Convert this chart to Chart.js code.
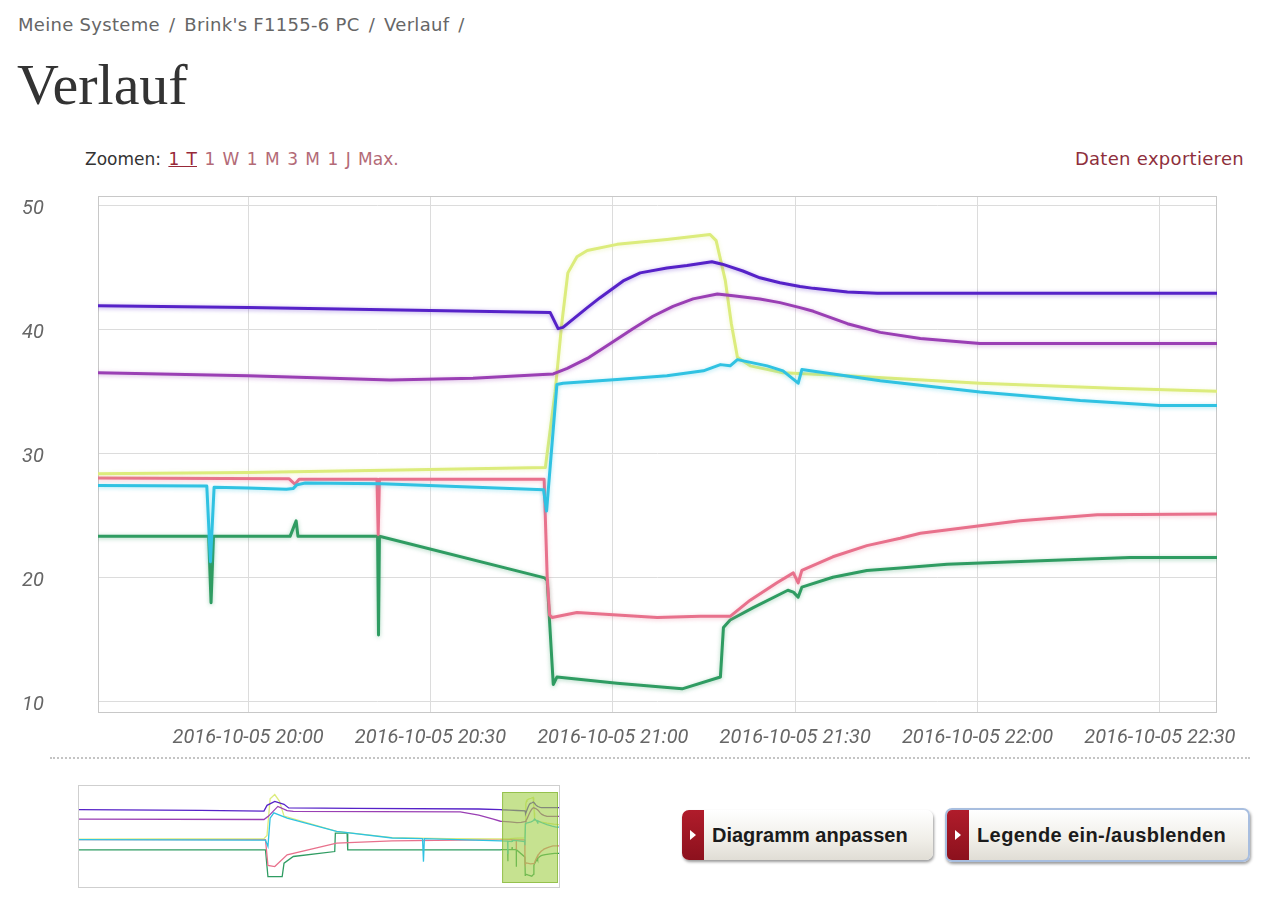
<!DOCTYPE html>
<html lang="de">
<head>
<meta charset="utf-8">
<title>Verlauf</title>
<script src="https://cdn.jsdelivr.net/npm/chart.js@4.4.1/dist/chart.umd.min.js"></script>
<style>
    body {
        margin: 0;
        width: 1280px;
        height: 898px;
        position: relative;
        overflow: hidden;
        background: #fff;
        font-family: "DejaVu Sans", sans-serif;
    }
    .crumbs {
        position: absolute;
        left: 18px;
        top: 14px;
        font-size: 18px;
        letter-spacing: 0.3px;
        color: #666;
    }
    .crumbs .sep { margin: 0 3px; }
    h1 {
        position: absolute;
        left: 17px;
        top: 51px;
        margin: 0;
        font: 400 58px "Liberation Serif", serif;
        color: #333;
    }
    .zoom {
        position: absolute;
        left: 85px;
        top: 149px;
        font-size: 17px;
        color: #333;
        word-spacing: 2px;
    }
    .zoom a { color: #b36a77; text-decoration: none; }
    .zoom a.active { color: #972838; text-decoration: underline; }
    .export {
        position: absolute;
        right: 36px;
        top: 148px;
        font-size: 18px;
        letter-spacing: 0.3px;
        color: #8e2f3c;
    }
    #mainWrap {
        position: absolute;
        left: 22px;
        top: 180px;
        width: 1238px;
        height: 580px;
    }
    .dots {
        position: absolute;
        left: 50px;
        top: 757px;
        width: 1200px;
        border-top: 2px dotted #c4c4c4;
    }
    #navWrap {
        position: absolute;
        left: 78px;
        top: 785px;
        width: 482px;
        height: 103px;
        box-sizing: border-box;
        border: 1px solid #cfcfcf;
    }
    .btn {
        position: absolute;
        box-sizing: border-box;
        border-radius: 7px;
        background: linear-gradient(#ffffff, #f0eee8 60%, #e0ddd5);
        box-shadow: 1px 2px 3px rgba(0, 0, 0, 0.4);
        font: bold 20px "Liberation Sans", Arial, sans-serif;
        color: #1b1b1b;
        overflow: hidden;
    }
    .btn .tab {
        position: absolute;
        left: 0;
        top: 0;
        bottom: 0;
        width: 22px;
        background: linear-gradient(#b01c2b, #8c111d);
    }
    .btn .tab::after {
        content: "";
        position: absolute;
        left: 8px;
        top: 50%;
        margin-top: -5px;
        border-left: 6px solid #fff;
        border-top: 5px solid transparent;
        border-bottom: 5px solid transparent;
    }
    .btn span {
        position: absolute;
        left: 30px;
        top: 50%;
        transform: translateY(-50%);
        white-space: nowrap;
    }
    #btnFit { left: 682px; top: 810px; width: 251px; height: 50px; }
    #btnLegend { left: 945px; top: 808px; width: 305px; height: 54px; border: 2px solid #a8bedf; }
    #btnLegend span { letter-spacing: 0.4px; }
</style>
</head>
<body>

<div class="crumbs">Meine Systeme <span class="sep">/</span> Brink's F1155-6 PC <span class="sep">/</span> Verlauf <span class="sep">/</span></div>
<h1>Verlauf</h1>

<div class="zoom">Zoomen: <a class="active">1 T</a> <a>1 W</a> <a>1 M</a> <a>3 M</a> <a>1 J</a> <a>Max.</a></div>
<div class="export">Daten exportieren</div>

<div id="mainWrap"><canvas id="mainChart"></canvas></div>
<div class="dots"></div>
<div id="navWrap"><canvas id="navChart"></canvas></div>

<div class="btn" id="btnFit"><div class="tab"></div><span>Diagramm anpassen</span></div>
<div class="btn" id="btnLegend"><div class="tab"></div><span>Legende ein-/ausblenden</span></div>

<script>
// times are minutes after midnight, 2016-10-05 (negative = day before)
const dayLabel = "2016-10-05";
const X_MIN = 1175.3;
const X_MAX = 1359.4;
const xTicks = [1200, 1230, 1260, 1290, 1320, 1350];
const yTicks = [10, 20, 30, 40, 50];

const indigoTimes = [1175.3, 1200, 1225, 1249.7, 1251.0, 1251.8, 1255.8, 1257.9, 1261.7, 1264.5, 1268.9, 1272.2, 1276.3, 1278.0, 1281.4, 1284.2, 1287.5, 1290.8, 1293.0, 1298.6, 1303.5, 1359.4];
const indigoValues = [41.95, 41.8, 41.6, 41.4, 40.1, 40.2, 41.8, 42.6, 43.95, 44.6, 45.0, 45.2, 45.5, 45.3, 44.75, 44.2, 43.8, 43.5, 43.35, 43.05, 42.95, 42.95];

const purpleTimes = [1175.3, 1200, 1223.4, 1237, 1248.5, 1250.2, 1252.5, 1255.8, 1259.6, 1263.3, 1266.6, 1269.9, 1273.2, 1277.2, 1279.8, 1284.2, 1287.5, 1290.8, 1293.0, 1298.6, 1304.0, 1310.6, 1320.4, 1359.4];
const purpleValues = [36.55, 36.3, 35.95, 36.1, 36.4, 36.45, 36.9, 37.7, 38.9, 40.1, 41.1, 41.9, 42.5, 42.9, 42.75, 42.5, 42.2, 41.8, 41.5, 40.5, 39.8, 39.3, 38.9, 38.9];

const yellowTimes = [1175.3, 1200, 1225, 1248.9, 1250.5, 1251.6, 1252.6, 1254.1, 1255.8, 1260.7, 1268.9, 1276.0, 1277.0, 1278.5, 1279.5, 1280.5, 1282.6, 1288.0, 1298.6, 1320.4, 1342.3, 1359.4];
const yellowValues = [28.4, 28.5, 28.7, 28.9, 35.0, 40.5, 44.6, 45.9, 46.4, 46.9, 47.3, 47.7, 47.2, 44.0, 40.5, 37.8, 37.1, 36.55, 36.3, 35.7, 35.3, 35.05];

const cyanTimes = [1175.3, 1193.2, 1193.8, 1194.4, 1200, 1206.3, 1207.4, 1208.0, 1209.4, 1222, 1248.6, 1249.1, 1250.8, 1251.8, 1260.7, 1268.9, 1274.9, 1277.7, 1279.3, 1280.5, 1285.4, 1288.0, 1290.5, 1291.1, 1304.0, 1320.4, 1336.9, 1350, 1359.4];
const cyanValues = [27.45, 27.4, 21.3, 27.3, 27.25, 27.15, 27.2, 27.5, 27.65, 27.6, 27.1, 25.4, 35.6, 35.7, 36.0, 36.3, 36.7, 37.2, 37.1, 37.6, 37.1, 36.7, 35.7, 36.8, 35.9, 35.0, 34.3, 33.9, 33.9];

const pinkTimes = [1175.3, 1206.7, 1207.7, 1208.4, 1221.2, 1221.4, 1221.6, 1248.7, 1249.2, 1249.6, 1250.0, 1254.1, 1260.7, 1267.3, 1274.4, 1279.3, 1282.6, 1287.0, 1289.7, 1290.5, 1291.1, 1296.2, 1301.8, 1307.3, 1310.6, 1320.4, 1327, 1339.7, 1359.4];
const pinkValues = [28.05, 28.0, 27.55, 27.95, 27.95, 23.5, 27.95, 27.95, 20.1, 17.0, 16.8, 17.2, 17.0, 16.8, 16.9, 16.9, 18.2, 19.6, 20.4, 19.6, 20.6, 21.7, 22.6, 23.2, 23.6, 24.2, 24.6, 25.1, 25.15];

const greenTimes = [1175.3, 1193.5, 1193.9, 1194.3, 1206.9, 1207.9, 1208.2, 1221.3, 1221.45, 1221.6, 1248.8, 1249.2, 1250.2, 1250.8, 1260.7, 1271.4, 1277.7, 1278.2, 1279.3, 1283.1, 1288.8, 1289.7, 1290.5, 1291.1, 1296.2, 1301.8, 1307.3, 1315, 1331.5, 1345.1, 1359.4];
const greenValues = [23.35, 23.35, 18.0, 23.35, 23.35, 24.6, 23.35, 23.35, 15.4, 23.35, 20.0, 19.8, 11.4, 12.0, 11.5, 11.05, 12.0, 16.0, 16.6, 17.6, 19.0, 18.85, 18.45, 19.25, 20.05, 20.6, 20.8, 21.1, 21.4, 21.65, 21.65];

// earlier part of the day, only shown in the navigator
const NAV_MIN = -193.2;
const navIndigoTimes = [-193.2, 200, 405, 415, 440, 470, 485, 700, 1100, 1170];
const navIndigoValues = [42.0, 41.7, 41.3, 44.0, 45.8, 44.5, 42.8, 42.6, 42.3, 42.0];
const navPurpleTimes = [-193.2, 405, 420, 450, 480, 500, 1040, 1100, 1147, 1170];
const navPurpleValues = [37.6, 37.4, 39.0, 43.5, 41.5, 41.2, 41.0, 39.5, 37.6, 36.6];
const navYellowTimes = [-193.2, 405, 415, 425, 440, 455, 470, 640, 820, 1000, 1170];
const navYellowValues = [28.3, 28.5, 30.0, 47.0, 49.0, 46.0, 39.0, 31.9, 29.0, 28.5, 28.4];
const navCyanTimes = [-193.2, 410, 418, 425, 437, 480, 640, 820, 918, 921, 924, 1170];
const navCyanValues = [28.0, 27.8, 24.9, 38.0, 40.5, 38.1, 31.9, 28.8, 28.5, 17.8, 28.5, 27.5];
const navPinkTimes = [-193.2, 410, 418, 440, 480, 640, 820, 1170];
const navPinkValues = [28.0, 28.0, 16.0, 15.5, 21.0, 26.4, 27.5, 28.0];
const navGreenTimes = [-193.2, 410, 418, 464, 470, 500, 634, 636, 674, 676, 1170];
const navGreenValues = [23.3, 23.3, 10.8, 10.8, 17.1, 20.2, 22.5, 31.1, 31.1, 23.3, 23.3];

const seriesColors = {
    indigo: "#5622c8",
    purple: "#9a3fb4",
    yellow: "#dcec7c",
    cyan: "#30c2e2",
    pink: "#e8718c",
    green: "#2f9c62"
};

function toPoints(times, values) {
    return times.map((t, i) => ({ x: t, y: values[i] }));
}

function timeLabel(minutes) {
    const h = Math.floor(minutes / 60);
    const m = Math.round(minutes % 60);
    return `${dayLabel} ${h}:${String(m).padStart(2, "0")}`;
}

// frame around the plot area
const plotFrame = {
    id: "plotFrame",
    beforeDatasetsDraw(chart) {
        const { ctx, chartArea: a } = chart;
        ctx.save();
        ctx.strokeStyle = "#c8c8c8";
        ctx.lineWidth = 1;
        ctx.strokeRect(a.left + 0.5, a.top + 0.5, a.width - 1, a.height - 1);
        ctx.restore();
    }
};

// soft coloured halo around the lines
const lineGlow = {
    id: "lineGlow",
    beforeDatasetDraw(chart, args) {
        const ctx = chart.ctx;
        const color = args.meta.dataset.options.borderColor;
        ctx.save();
        ctx.shadowColor = color + "66";
        ctx.shadowBlur = 4;
        ctx.shadowOffsetY = 1;
    },
    afterDatasetDraw(chart) {
        chart.ctx.restore();
    }
};

// green window showing the visible range
const navWindow = {
    id: "navWindow",
    afterDatasetsDraw(chart) {
        const { ctx, chartArea: a, scales } = chart;
        const x0 = scales.x.getPixelForValue(X_MIN);
        const x1 = scales.x.getPixelForValue(X_MAX);
        ctx.save();
        ctx.fillStyle = "rgba(160, 206, 70, 0.6)";
        ctx.strokeStyle = "rgba(130, 180, 50, 0.7)";
        ctx.fillRect(x0, a.top + 6, x1 - x0 - 1, a.height - 10);
        ctx.strokeRect(x0 + 0.5, a.top + 6.5, x1 - x0 - 2, a.height - 11);
        ctx.restore();
    }
};

const mainSeries = [
    ["indigo", indigoTimes, indigoValues],
    ["purple", purpleTimes, purpleValues],
    ["cyan", cyanTimes, cyanValues],
    ["yellow", yellowTimes, yellowValues],
    ["pink", pinkTimes, pinkValues],
    ["green", greenTimes, greenValues]
];

const navSeries = [
    ["indigo", navIndigoTimes.concat(indigoTimes), navIndigoValues.concat(indigoValues)],
    ["purple", navPurpleTimes.concat(purpleTimes), navPurpleValues.concat(purpleValues)],
    ["cyan", navCyanTimes.concat(cyanTimes), navCyanValues.concat(cyanValues)],
    ["yellow", navYellowTimes.concat(yellowTimes), navYellowValues.concat(yellowValues)],
    ["pink", navPinkTimes.concat(pinkTimes), navPinkValues.concat(pinkValues)],
    ["green", navGreenTimes.concat(greenTimes), navGreenValues.concat(greenValues)]
];

const labelFont = { family: "Roboto, 'DejaVu Sans', sans-serif", size: 20, style: "italic" };

new Chart(document.getElementById("mainChart").getContext("2d"), {
    type: "line",
    data: {
        datasets: mainSeries.map(([name, times, values]) => ({
            label: name,
            data: toPoints(times, values),
            borderColor: seriesColors[name],
            borderWidth: 3,
            fill: false
        }))
    },
    options: {
        responsive: true,
        maintainAspectRatio: false,
        animation: false,
        layout: { padding: { top: 16, right: 43, left: 0, bottom: 0 } },
        elements: {
            point: { radius: 0 },
            line: { tension: 0, borderJoinStyle: "round", borderCapStyle: "round" }
        },
        plugins: {
            legend: { display: false },
            tooltip: { enabled: false }
        },
        scales: {
            x: {
                type: "linear",
                min: X_MIN,
                max: X_MAX,
                afterBuildTicks: scale => { scale.ticks = xTicks.map(v => ({ value: v })); },
                afterFit: scale => { scale.height = 47; },
                border: { display: false },
                grid: { color: "#dcdcdc", drawTicks: false },
                ticks: {
                    padding: 13,
                    color: "#666",
                    font: labelFont,
                    maxRotation: 0,
                    autoSkip: false,
                    callback: v => timeLabel(v)
                }
            },
            y: {
                min: 9.1,
                max: 50.8,
                afterBuildTicks: scale => { scale.ticks = yTicks.map(v => ({ value: v })); },
                afterFit: scale => { scale.width = 76; },
                border: { display: false },
                grid: { color: "#dcdcdc", drawTicks: false },
                ticks: {
                    crossAlign: "far",
                    labelOffset: 3,
                    color: "#666",
                    font: labelFont
                }
            }
        }
    },
    plugins: [plotFrame, lineGlow]
});

new Chart(document.getElementById("navChart").getContext("2d"), {
    type: "line",
    data: {
        datasets: navSeries.map(([name, times, values]) => ({
            label: name,
            data: toPoints(times, values),
            borderColor: seriesColors[name],
            borderWidth: 1.3,
            fill: false
        }))
    },
    options: {
        responsive: true,
        maintainAspectRatio: false,
        animation: false,
        layout: { padding: 0 },
        elements: { point: { radius: 0 }, line: { tension: 0 } },
        plugins: {
            legend: { display: false },
            tooltip: { enabled: false }
        },
        scales: {
            x: { type: "linear", min: NAV_MIN, max: X_MAX, display: false },
            y: { min: 6, max: 53, display: false }
        }
    },
    plugins: [navWindow]
});
</script>
</body>
</html>
